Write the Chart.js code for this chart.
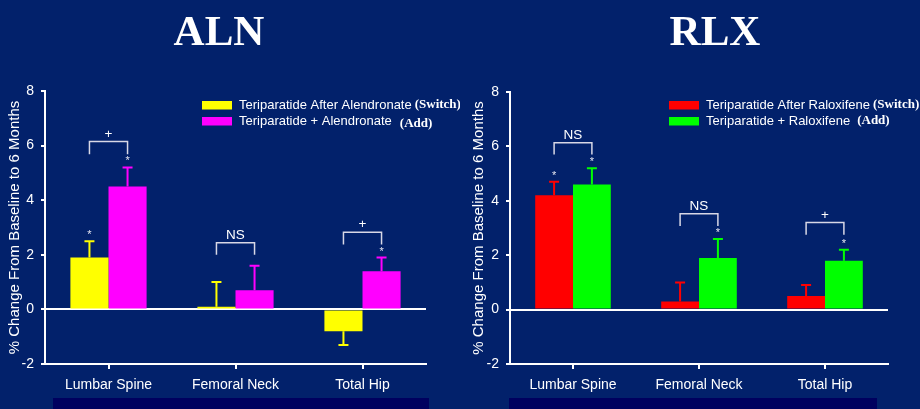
<!DOCTYPE html>
<html>
<head>
<meta charset="utf-8">
<script src="https://cdn.jsdelivr.net/npm/chart.js@4.4.1/dist/chart.umd.min.js"></script>
<style>
  html, body { margin: 0; padding: 0; background: #02216B; width: 920px; height: 409px; overflow: hidden; }
  .panel { position: absolute; top: 0; width: 460px; height: 409px; }
  .title { position: absolute; top: 9px; font: bold 43px "Liberation Serif", "Times New Roman", serif;
           line-height: 43px; color: #fff; transform: translateX(-50%); white-space: nowrap; }
  .strip { position: absolute; top: 398px; height: 11px; background: #00005F; }
</style>
</head>
<body>
<div class="panel" style="left:0"><canvas id="aln" width="460" height="409"></canvas></div>
<div class="panel" style="left:460px"><canvas id="rlx" width="460" height="409"></canvas></div>
<div class="strip" style="left:53px;width:376px"></div>
<div class="strip" style="left:509px;width:368px"></div>
<div class="title" style="left:219px">ALN</div>
<div class="title" style="left:715px">RLX</div>
<script>
// Skeletal sites and shared axis
const categories = ['Lumbar Spine', 'Femoral Neck', 'Total Hip'];
const yMin = -2, yMax = 8, yStep = 2;
const yAxisTitle = '% Change From Baseline to 6 Months';

// Alendronate-pretreated group: mean % change and SE
const alnSwitchLabel = 'Teriparatide After Alendronate';
const alnAddLabel = 'Teriparatide + Alendronate';
const alnTags = ['(Switch)', '(Add)'];
const alnSwitch = [1.9, 0.1, -0.8];
const alnSwitchErr = [0.6, 0.9, 0.5];
const alnAdd = [4.5, 0.7, 1.4];
const alnAddErr = [0.7, 0.9, 0.5];
const alnSwitchStar = [true, false, false];
const alnAddStar = [true, false, true];
const alnSig = ['+', 'NS', '+'];
const alnBracketTop = [6.15, 2.44, 2.83];
const alnBracketFoot = [5.68, 2.0, 2.38];

// Raloxifene-pretreated group: mean % change and SE
const rlxSwitchLabel = 'Teriparatide After Raloxifene';
const rlxAddLabel = 'Teriparatide + Raloxifene';
const rlxTags = ['(Switch)', '(Add)'];
const rlxSwitch = [4.2, 0.3, 0.5];
const rlxSwitchErr = [0.5, 0.7, 0.4];
const rlxAdd = [4.6, 1.9, 1.8];
const rlxAddErr = [0.6, 0.7, 0.4];
const rlxSwitchStar = [true, false, false];
const rlxAddStar = [true, true, true];
const rlxSig = ['NS', 'NS', '+'];
const rlxBracketTop = [6.13, 3.52, 3.2];
const rlxBracketFoot = [5.7, 3.07, 2.75];

const SANS = '"Liberation Sans", Arial, sans-serif';
const SERIF = '"Liberation Serif", "Times New Roman", serif';

// Error bars, significance markers, brackets and the two-font legend
const decorations = {
  id: 'decorations',
  afterDatasetsDraw(chart, args, o) {
    const ctx = chart.ctx;
    const ys = chart.scales.y;
    const metas = [chart.getDatasetMeta(0), chart.getDatasetMeta(1)];
    ctx.save();
    chart.data.datasets.forEach((ds, di) => {
      ds.data.forEach((v, i) => {
        const bar = metas[di].data[i];
        const tip = v + (v < 0 ? -1 : 1) * o.errors[di][i];
        const y0 = ys.getPixelForValue(v), y1 = ys.getPixelForValue(tip);
        ctx.strokeStyle = ds.backgroundColor;
        ctx.lineWidth = 2;
        ctx.beginPath();
        ctx.moveTo(bar.x, y0); ctx.lineTo(bar.x, y1);
        ctx.moveTo(bar.x - 5, y1); ctx.lineTo(bar.x + 5, y1);
        ctx.stroke();
        if (o.stars[di][i]) {
          ctx.fillStyle = '#e6e6f0';
          ctx.font = '11px ' + SANS;
          ctx.textAlign = 'center';
          ctx.textBaseline = 'alphabetic';
          ctx.fillText('*', bar.x, y1 - 3);
        }
      });
    });
    o.sig.forEach((label, i) => {
      const xa = metas[0].data[i].x, xb = metas[1].data[i].x;
      const yt = ys.getPixelForValue(o.top[i]), yf = ys.getPixelForValue(o.foot[i]);
      ctx.strokeStyle = '#d8d8e6';
      ctx.lineWidth = 1.5;
      ctx.beginPath();
      ctx.moveTo(xa, yf); ctx.lineTo(xa, yt); ctx.lineTo(xb, yt); ctx.lineTo(xb, yf);
      ctx.stroke();
      ctx.fillStyle = '#fff';
      ctx.font = '13.5px ' + SANS;
      ctx.textAlign = 'center';
      ctx.textBaseline = 'alphabetic';
      ctx.fillText(label, (xa + xb) / 2, yt - 4);
    });
    // legend
    chart.data.datasets.forEach((ds, di) => {
      const cy = o.legendY + di * 16;
      ctx.fillStyle = ds.backgroundColor;
      ctx.fillRect(o.legendX, cy - 4, 30, 8.5);
      ctx.fillStyle = '#fff';
      ctx.textAlign = 'left';
      ctx.textBaseline = 'middle';
      ctx.font = '13px ' + SANS;
      const tx = o.legendX + 37;
      ctx.fillText(ds.label, tx, cy);
      const w = ctx.measureText(ds.label).width;
      ctx.font = 'bold 13px ' + SERIF;
      ctx.fillText(o.tags[di], tx + w + o.tagGap[di], cy + o.tagDy[di]);
    });
    ctx.restore();
  }
};

function buildChart(id, p) {
  return new Chart(document.getElementById(id), {
    type: 'bar',
    data: {
      labels: categories,
      datasets: [
        { label: p.labels[0], data: p.values[0], backgroundColor: p.colors[0],
          borderWidth: 0, barPercentage: 1, categoryPercentage: 0.6 },
        { label: p.labels[1], data: p.values[1], backgroundColor: p.colors[1],
          borderWidth: 0, barPercentage: 1, categoryPercentage: 0.6 }
      ]
    },
    options: {
      responsive: false,
      animation: false,
      layout: { padding: { top: p.top, right: p.right, left: 0, bottom: 0 } },
      plugins: {
        legend: { display: false },
        tooltip: { enabled: false },
        decorations: {
          errors: p.errors, stars: p.stars, sig: p.sig, top: p.bracketTop, foot: p.bracketFoot,
          tags: p.tags, tagGap: p.tagGap, tagDy: p.tagDy, legendX: p.legendX, legendY: 105
        }
      },
      scales: {
        x: {
          afterFit(s) { s.height = 45; },
          grid: { offset: false, drawOnChartArea: false, tickLength: 5, tickColor: '#fff', lineWidth: 2 },
          border: { display: true, color: '#fff', width: 2 },
          ticks: { color: '#fff', padding: 8, font: { family: SANS, size: 14 } }
        },
        y: {
          min: yMin, max: yMax,
          afterFit(s) { s.width = p.yWidth; },
          ticks: { stepSize: yStep, color: '#fff', padding: 7, font: { family: SANS, size: 14 } },
          grid: {
            drawOnChartArea: true, tickLength: 4, tickColor: '#fff', lineWidth: 2,
            color: (c) => (c.tick && c.tick.value === 0 ? '#fff' : 'rgba(0,0,0,0)')
          },
          border: { display: true, color: '#fff', width: 2 },
          title: { display: true, text: yAxisTitle, color: '#fff',
                   font: { family: SANS, size: 15 }, padding: { top: p.titlePad, bottom: 0 } }
        }
      }
    },
    plugins: [decorations]
  });
}

buildChart('aln', {
  labels: [alnSwitchLabel, alnAddLabel], tags: alnTags,
  values: [alnSwitch, alnAdd], errors: [alnSwitchErr, alnAddErr],
  stars: [alnSwitchStar, alnAddStar], sig: alnSig,
  bracketTop: alnBracketTop, bracketFoot: alnBracketFoot,
  colors: ['#FFFF00', '#FF00FF'],
  top: 91, right: 34, yWidth: 45, titlePad: 6,
  legendX: 202, tagGap: [3, 8], tagDy: [0, 2.5]
});

buildChart('rlx', {
  labels: [rlxSwitchLabel, rlxAddLabel], tags: rlxTags,
  values: [rlxSwitch, rlxAdd], errors: [rlxSwitchErr, rlxAddErr],
  stars: [rlxSwitchStar, rlxAddStar], sig: rlxSig,
  bracketTop: rlxBracketTop, bracketFoot: rlxBracketFoot,
  colors: ['#FF0000', '#00FF00'],
  top: 92, right: 32, yWidth: 50, titlePad: 10,
  legendX: 209, tagGap: [3, 7], tagDy: [0, 0]
});
</script>
</body>
</html>
